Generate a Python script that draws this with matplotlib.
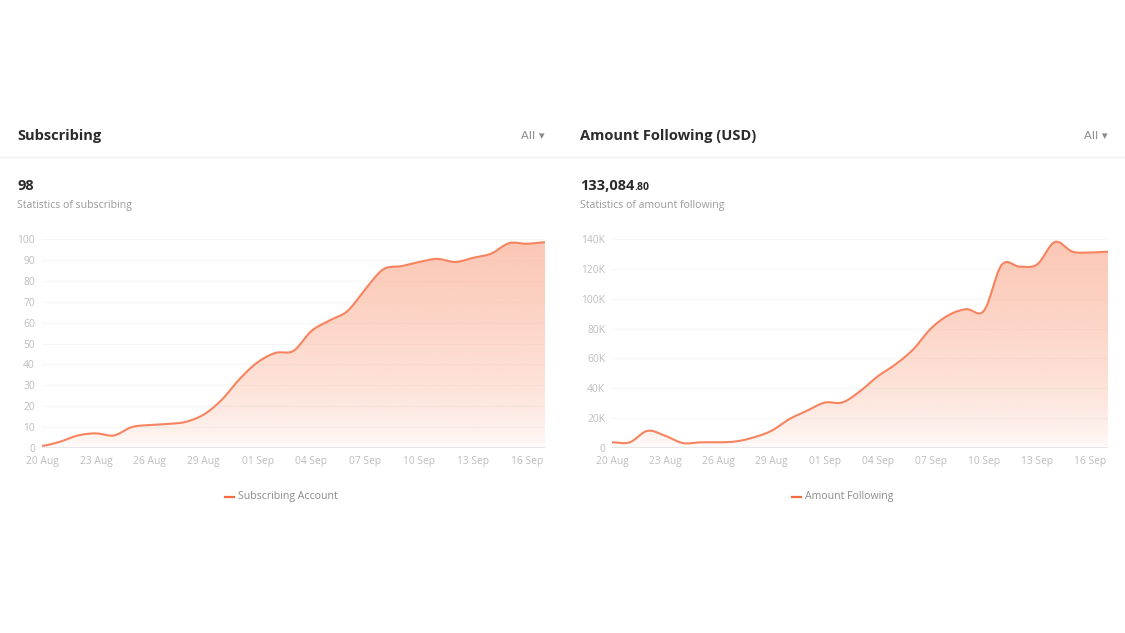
import numpy as np
import matplotlib.pyplot as plt
from matplotlib.patches import Polygon
from matplotlib.lines import Line2D

plt.rcParams['font.family'] = ['Open Sans', 'DejaVu Sans']

# daily values, 20 Aug .. 17 Sep
dates = ['20 Aug', '21 Aug', '22 Aug', '23 Aug', '24 Aug', '25 Aug', '26 Aug',
         '27 Aug', '28 Aug', '29 Aug', '30 Aug', '31 Aug', '01 Sep', '02 Sep',
         '03 Sep', '04 Sep', '05 Sep', '06 Sep', '07 Sep', '08 Sep', '09 Sep',
         '10 Sep', '11 Sep', '12 Sep', '13 Sep', '14 Sep', '15 Sep', '16 Sep',
         '17 Sep']
subscribing = [1, 3, 6, 7, 6, 10, 11, 11.5, 12.5, 16, 23, 33, 41, 45.5,
               46.5, 56, 61, 65.5, 76, 85.5, 87, 89, 90.5, 89, 91, 93,
               98, 97.7, 98.5]
amount = [3800, 3800, 11500, 8200, 3300, 3800, 3800, 4400, 7100, 11500,
          19300, 24900, 30400, 30500, 38000, 48000, 56000, 66000, 80000,
          89000, 93000, 92000, 122700, 121500, 123000, 138000, 131500,
          131000, 131500]

sub_ticks = [0, 10, 20, 30, 40, 50, 60, 70, 80, 90, 100]
amt_ticks = [0, 20000, 40000, 60000, 80000, 100000, 120000, 140000]
amt_tick_labels = ['0', '20K', '40K', '60K', '80K', '100K', '120K', '140K']

LINE = '#f7845f'
FILL = '#fbb39a'
GREY = '#bdbdbd'
W, H = 1125, 633

fig = plt.figure(figsize=(W / 100, H / 100), dpi=100)


def fx(x):
    return x / W


def fy(y):
    return 1 - y / H


def smooth(y, n=12):
    # catmull-rom through the read points, only to draw the curve smoothly
    y = np.asarray(y, float)
    p = np.concatenate([[y[0]], y, [y[-1]]])
    xs, ys = [], []
    for i in range(len(y) - 1):
        p0, p1, p2, p3 = p[i], p[i + 1], p[i + 2], p[i + 3]
        t = np.linspace(0, 1, n, endpoint=False)
        v = 0.5 * (2 * p1 + (-p0 + p2) * t + (2 * p0 - 5 * p1 + 4 * p2 - p3) * t ** 2
                   + (-p0 + 3 * p1 - 3 * p2 + p3) * t ** 3)
        xs.append(i + t)
        ys.append(v)
    xs.append([len(y) - 1])
    ys.append([y[-1]])
    return np.concatenate(xs), np.concatenate(ys)


def panel(x0, x1, values, ticks, tick_labels, ymax):
    ax = fig.add_axes([fx(x0), fy(448), fx(x1 - x0), (448 - 239) / H])
    xs, ys = smooth(values)
    ax.set_xlim(0, len(values) - 1)
    ax.set_ylim(0, ymax)
    # gradient fill under the curve
    grad = 0.72 * (np.linspace(1, 0, 256) ** 0.6) + 0.02
    rgba = np.zeros((256, 1, 4))
    rgba[..., :3] = plt.matplotlib.colors.to_rgb(FILL)
    rgba[..., 3] = grad.reshape(-1, 1)
    im = ax.imshow(rgba, extent=[0, len(values) - 1, 0, ymax], aspect='auto',
                   origin='upper', zorder=1)
    poly = Polygon(np.column_stack([np.r_[xs, xs[-1], xs[0]],
                                    np.r_[ys, 0, 0]]), closed=True,
                   facecolor='none', edgecolor='none')
    ax.add_patch(poly)
    im.set_clip_path(poly)
    ax.plot(xs, ys, color=LINE, lw=1.5, zorder=3, solid_capstyle='round')
    for t in ticks[1:]:
        ax.axhline(t, color='#f6f6f6', lw=0.8, zorder=0)
    ax.axhline(0, color='#e3e3e3', lw=1.2, zorder=2)
    ax.set_yticks(ticks)
    ax.set_yticklabels(tick_labels)
    ax.set_xticks(range(0, len(values), 3))
    ax.set_xticklabels([dates[i] for i in range(0, len(values), 3)])
    ax.tick_params(length=0, labelsize=7.4, colors=GREY, pad=5)
    ax.tick_params(axis='x', pad=6)
    for s in ax.spines.values():
        s.set_visible(False)
    ax.set_facecolor('none')
    return ax


panel(42, 545, subscribing, sub_ticks, [str(t) for t in sub_ticks], 100)
panel(612, 1108, amount, amt_ticks, amt_tick_labels, 140000)

# headers
fig.add_artist(Line2D([0, 1], [fy(157), fy(157)], color='#eeeeee', lw=1))
fig.text(fx(17), fy(136), 'Subscribing', fontsize=10.5, fontweight='bold',
         color='#2b2b2b', va='center')
fig.text(fx(580), fy(136), 'Amount Following (USD)', fontsize=10.5,
         fontweight='bold', color='#2b2b2b', va='center')
for xa in (545, 1108):
    fig.text(fx(xa), fy(136), 'All \u25be', fontsize=8.2, color='#8a8a8a',
             va='center', ha='right', family=['DejaVu Sans'])

fig.text(fx(17), fy(186), '98', fontsize=10.5, fontweight='bold',
         color='#2b2b2b', va='center')
fig.text(fx(17), fy(205), 'Statistics of subscribing', fontsize=7.6,
         color='#9a9a9a', va='center')
t = fig.text(fx(580), fy(186), '133,084', fontsize=10.5, fontweight='bold',
             color='#2b2b2b', va='center')
fig.canvas.draw()
bb = t.get_window_extent()
fig.text(bb.x1 / W, fy(188), '.80', fontsize=7.5, fontweight='bold',
         color='#2b2b2b', va='center')
fig.text(fx(580), fy(205), 'Statistics of amount following', fontsize=7.6,
         color='#9a9a9a', va='center')

# legends
for lx, label in ((225, 'Subscribing Account'), (792, 'Amount Following')):
    fig.add_artist(Line2D([fx(lx), fx(lx + 9)], [fy(497), fy(497)],
                          color='#f26b3e', lw=1.6))
    fig.text(fx(lx + 13), fy(497), label, fontsize=7.6, color='#8a8a8a',
             va='center')

fig.savefig('out.png', dpi=100, facecolor='white')
